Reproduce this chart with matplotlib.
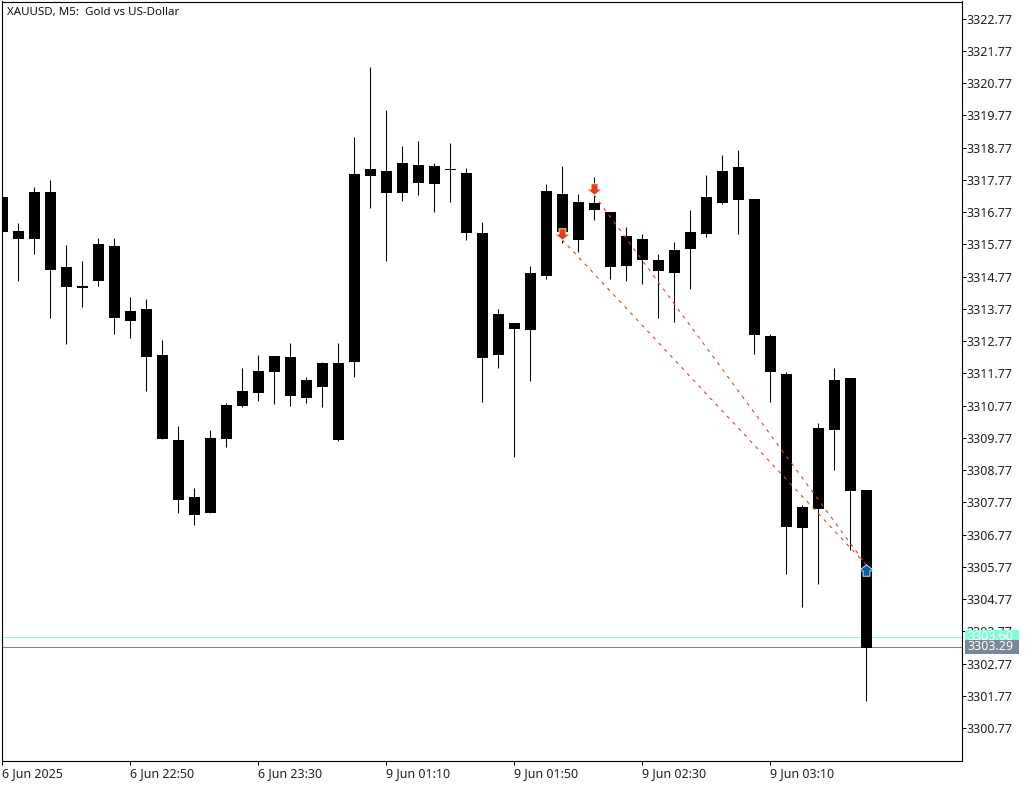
# plot.py
# XAUUSD M5 candles, MT5 style chart with two sell -> buy trade lines

import matplotlib
matplotlib.use("Agg")
import matplotlib.pyplot as plt
from matplotlib.patches import Rectangle
from matplotlib.path import Path

plt.rcParams['font.family'] = ['Noto Sans', 'DejaVu Sans']

body_top = [3317.25, 3316.19, 3317.40, 3317.40, 3315.08, 3314.49, 3315.79, 3315.73, 3313.71, 3313.78,
            3312.35, 3309.71, 3307.94, 3309.77, 3310.80, 3311.23, 3311.85, 3312.32, 3312.29, 3311.57,
            3312.10, 3312.10, 3317.96, 3318.12, 3318.03, 3318.30, 3318.24, 3318.21, 3318.12, 3317.99,
            3316.13, 3313.62, 3313.34, 3314.89, 3317.44, 3317.34, 3317.09, 3317.06, 3316.78, 3316.04,
            3315.95, 3315.30, 3315.61, 3316.16, 3317.25, 3318.06, 3318.18, 3317.19, 3312.94, 3311.76,
            3307.63, 3310.08, 3311.57, 3311.64, 3308.16]
body_bot = [3316.16, 3315.95, 3315.95, 3314.99, 3314.46, 3314.43, 3314.64, 3313.50, 3313.40, 3312.29,
            3309.74, 3307.85, 3307.39, 3307.45, 3309.74, 3310.77, 3311.17, 3311.82, 3311.08, 3311.02,
            3311.36, 3309.71, 3312.13, 3317.90, 3317.37, 3317.37, 3317.68, 3317.65, 3318.09, 3316.13,
            3312.23, 3312.35, 3313.16, 3313.12, 3314.80, 3316.16, 3315.92, 3316.82, 3315.08, 3315.11,
            3315.30, 3314.95, 3314.89, 3315.64, 3316.10, 3317.06, 3317.16, 3312.97, 3311.82, 3307.01,
            3306.98, 3307.57, 3310.02, 3308.13, 3303.26]
high = [3317.25, 3316.44, 3317.56, 3317.78, 3315.76, 3315.26, 3315.98, 3315.98, 3314.15, 3314.09,
        3312.81, 3310.15, 3308.22, 3310.02, 3310.86, 3311.92, 3312.35, 3312.32, 3312.72, 3311.67,
        3312.13, 3312.72, 3319.11, 3321.28, 3319.95, 3318.83, 3318.96, 3318.30, 3318.92, 3318.15,
        3316.47, 3313.78, 3313.34, 3315.11, 3317.65, 3318.21, 3317.34, 3317.87, 3316.78, 3316.32,
        3316.10, 3315.48, 3315.85, 3316.82, 3317.93, 3318.55, 3318.71, 3317.19, 3313.00, 3311.82,
        3307.70, 3310.24, 3311.92, 3311.64, 3308.16]
low = [3316.16, 3314.64, 3315.48, 3313.50, 3312.69, 3313.84, 3314.49, 3313.00, 3312.88, 3311.23,
       3309.74, 3307.45, 3307.08, 3307.45, 3309.50, 3310.74, 3310.92, 3310.83, 3310.77, 3310.86,
       3310.74, 3309.68, 3311.67, 3316.91, 3315.26, 3317.13, 3317.31, 3316.78, 3317.09, 3315.89,
       3310.89, 3311.95, 3309.19, 3311.54, 3314.71, 3315.82, 3315.54, 3316.51, 3314.68, 3314.64,
       3314.55, 3313.50, 3313.37, 3314.40, 3316.01, 3317.03, 3316.10, 3312.38, 3310.87, 3305.56,
       3304.53, 3305.25, 3308.78, 3306.30, 3301.62]

price_ticks = [3300.77 + k for k in range(23)]
time_idx = [0, 8, 16, 24, 32, 40, 48]
time_labels = ["6 Jun 2025", "6 Jun 22:50", "6 Jun 23:30", "9 Jun 01:10",
               "9 Jun 01:50", "9 Jun 02:30", "9 Jun 03:10"]

sell_idx = [35, 37]
sell_price = [3315.92, 3317.31]
buy_idx = [54]
buy_price = [3305.84]
ask = 3303.60
bid = 3303.29

W, H = 1032, 785
fig = plt.figure(figsize=(W / 100, H / 100), dpi=100, facecolor="white")
ax = fig.add_axes([1.5 / W, 1 - 760.5 / H, 960 / W, 759 / H])
ax.set_xlim(-0.03, 59.97)
ax.set_ylim(3299.762, 3323.302)

ax.axhline(ask, color="#7fffd4", lw=0.75, zorder=1)
ax.axhline(bid, color="#778899", lw=0.75, zorder=1)

for i in range(len(high)):
    ax.vlines(i, low[i], high[i], color="black", lw=0.75, zorder=2)
    # small nudge so the body snaps around the wick pixel
    ax.bar(i + 0.04, body_top[i] - body_bot[i], bottom=body_bot[i], width=0.6875,
           color="black", linewidth=0, zorder=2)

# trade lines, sell entry to buy exit
for i in range(len(sell_idx)):
    ax.plot([sell_idx[i], buy_idx[0]], [sell_price[i], buy_price[0]], color="#e8401c",
            lw=0.8, ls=(0, (3, 4.5)), zorder=3)

arrow_down = Path([(-0.45, 0.75), (0.45, 0.75), (0.45, 0.05), (1.0, 0.05), (0.0, -0.75),
                   (-1.0, 0.05), (-0.45, 0.05), (-0.45, 0.75)], closed=True)
arrow_up = Path([(-0.45, -0.75), (0.45, -0.75), (0.45, -0.05), (1.0, -0.05), (0.0, 0.75),
                 (-1.0, -0.05), (-0.45, -0.05), (-0.45, -0.75)], closed=True)
ax.plot(sell_idx, [p + 0.17 for p in sell_price], ls="none", marker=arrow_down, ms=11,
        mfc="#e8401c", mec="white", mew=0.6, zorder=4)
ax.plot(buy_idx, [p - 0.17 for p in buy_price], ls="none", marker=arrow_up, ms=11,
        mfc="#0060a8", mec="white", mew=0.6, zorder=4)

for s in ax.spines.values():
    s.set_linewidth(0.8)
    s.set_color("black")

ax.yaxis.tick_right()
ax.set_yticks(price_ticks)
ax.set_yticklabels([f"{p:.2f}" for p in price_ticks])
ax.tick_params(axis="y", length=3, width=0.75, pad=0.8, labelsize=9, labelcolor="#222222")
ax.set_xticks(time_idx)
ax.set_xticklabels(time_labels, ha="left")
ax.tick_params(axis="x", length=3, width=0.75, pad=1.5, labelsize=9, labelcolor="#222222")

# price tags on the right side, bid tag covers the ask tag
tr = ax.get_yaxis_transform()
tag_h = 14 * (ax.get_ylim()[1] - ax.get_ylim()[0]) / 759
for price, col, z in [(ask, "#7fffd4", 5), (bid, "#778899", 6)]:
    ax.add_patch(Rectangle((1.0036, price - tag_h / 2), 0.0563, tag_h, transform=tr, facecolor=col,
                           edgecolor="none", clip_on=False, zorder=z))
    ax.text(1.0065, price, f"{price:.2f}", transform=tr, color="white", fontsize=9, va="center",
            ha="left", clip_on=False, zorder=z)

ax.text(5.5 / 960, 1 - 11.5 / 759, "XAUUSD, M5:  Gold vs US-Dollar", transform=ax.transAxes,
        fontsize=8.3, va="center", ha="left", color="#111111")

fig.savefig("out.png", dpi=100)
